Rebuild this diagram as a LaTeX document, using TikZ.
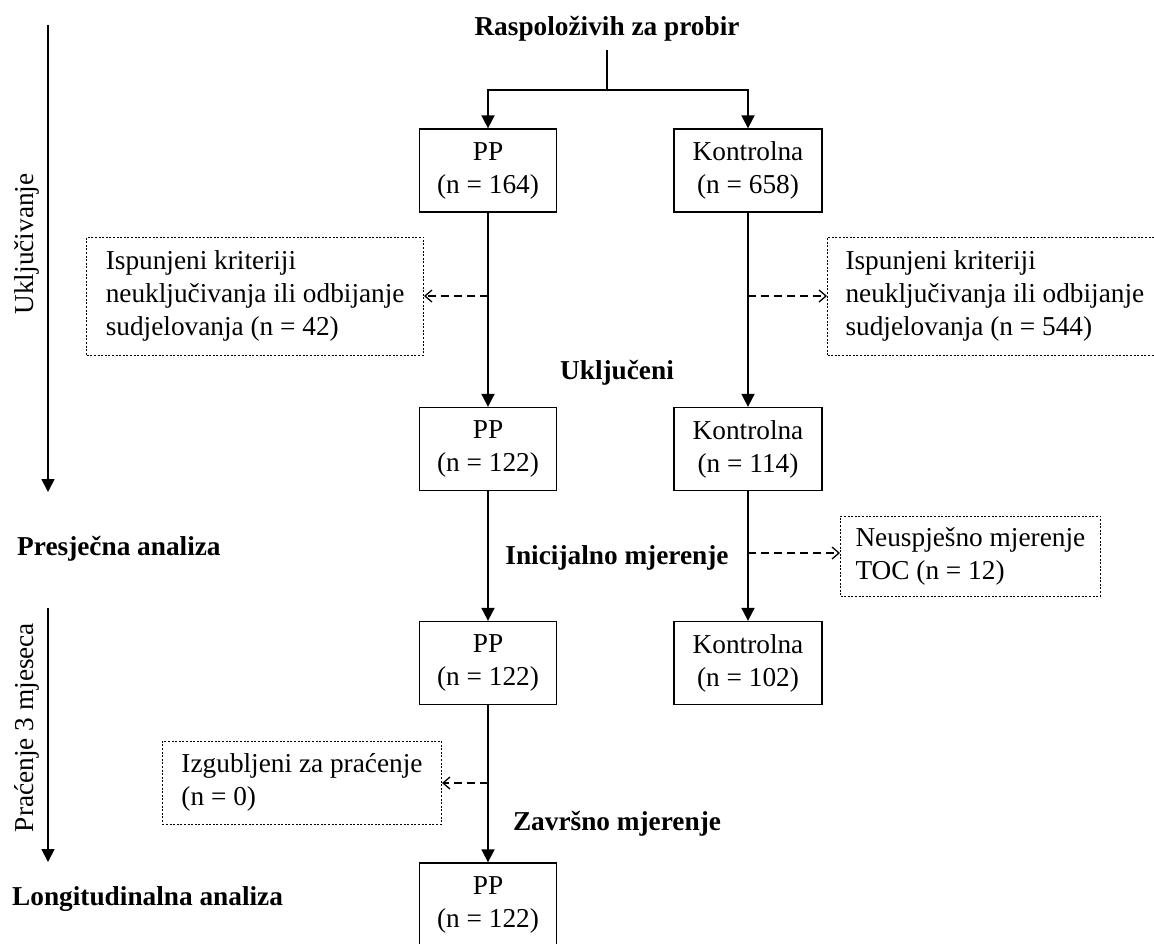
\documentclass[tikz,border=0pt]{standalone}
\usepackage{fontspec}
\setmainfont{Liberation Serif}
\usetikzlibrary{arrows.meta}
\begin{document}
\begin{tikzpicture}[x=1pt,y=-1pt,
  every node/.style={font=\fontsize{27.3}{33}\selectfont, inner sep=0pt},
  box/.style={draw, line width=1.3pt, minimum width=137pt, minimum height=83pt, align=center, execute at begin node={\rule{0pt}{28pt}}},
  kbox/.style={box, minimum width=148pt},
  note/.style={draw, line width=1pt, dash pattern=on 2pt off 1.6pt, align=left, inner xsep=17pt, inner ysep=0pt},
  lab/.style={font=\fontsize{27.3}{33}\selectfont\bfseries, anchor=base},
  ln/.style={line width=1.8pt},
  arr/.style={ln, -{Triangle[length=13pt,width=13pt]}},
  darr/.style={line width=1.5pt, dash pattern=on 8pt off 5pt, -{Straight Barb[length=7pt,width=12pt,line width=1.3pt]}},
]
\useasboundingbox (0,0) rectangle (1154,943);

% title and split
\node[lab] (title) at (607,35) {Raspoloživih za probir};
\coordinate (split) at (607,90);

% main boxes
\node[box]  (pp1) at (488,170.5) {PP\\(n = 164)};
\node[kbox] (k1)  at (748,170.5) {Kontrolna\\(n = 658)};
\node[box]  (pp2) at (488,449) {PP\\(n = 122)};
\node[kbox] (k2)  at (748,449) {Kontrolna\\(n = 114)};
\node[box]  (pp3) at (488,663) {PP\\(n = 122)};
\node[kbox] (k3)  at (748,663) {Kontrolna\\(n = 102)};
\node[box]  (pp4) at (488,904.5) {PP\\(n = 122)};

% side notes
\node[note, minimum height=118pt, anchor=east, inner xsep=19pt] (ex1) at (424,296)
  {Ispunjeni kriteriji\\neuključivanja ili odbijanje\\sudjelovanja (n = 42)};
\node[note, minimum height=118pt, anchor=west, inner xsep=18pt] (ex2) at (827,296)
  {Ispunjeni kriteriji\\neuključivanja ili odbijanje\\sudjelovanja (n = 544)};
\node[note, minimum height=80pt, anchor=west, inner xsep=15pt] (fail) at (840,556)
  {Neuspješno mjerenje\\TOC (n = 12)};
\node[note, minimum height=83pt, anchor=east, inner xsep=19pt] (lost) at (442,782.5)
  {Izgubljeni za praćenje\\(n = 0)};

% junctions
\coordinate (j1) at (488,296);
\coordinate (j2) at (748,296);
\coordinate (j3) at (748,553);
\coordinate (j4) at (488,783);

% middle labels
\node[lab] (lincl) at (617,379) {Uključeni};
\node[lab] (linit) at (617,564) {Inicijalno mjerenje};
\node[lab] (lfin)  at (617,830) {Završno mjerenje};

% left labels
\node[lab, anchor=base west] (lcross) at (17,555) {Presječna analiza};
\node[lab, anchor=base west] (llong) at (12,905) {Longitudinalna analiza};
\node[rotate=90, anchor=base] (lphase1) at (33,244) {Uključivanje};
\node[rotate=90, anchor=base] (lphase2) at (33,727.5) {Praćenje 3 mjeseca};
\coordinate (a1s) at (48,25);
\coordinate (a1e) at (48,492);
\coordinate (a2s) at (48,608);
\coordinate (a2e) at (48,862);
\draw[arr] (a1s) -- (a1e);
\draw[arr] (a2s) -- (a2e);

% connectors
\draw[ln, shorten <=9pt] (title.south) -- (split);
\draw[arr] (split) -| (pp1.north);
\draw[arr] (split) -| (k1.north);
\draw[arr] (pp1.south) -- (pp2.north);
\draw[arr] (k1.south) -- (k2.north);
\draw[arr] (pp2.south) -- (pp3.north);
\draw[arr] (k2.south) -- (k3.north);
\draw[arr] (pp3.south) -- (pp4.north);

% dashed arrows
\draw[darr] (j1) -- (j1 -| ex1.east);
\draw[darr] (j2) -- (j2 -| ex2.west);
\draw[darr] (j3) -- (j3 -| fail.west);
\draw[darr] (j4) -- (j4 -| lost.east);
\end{tikzpicture}
\end{document}
